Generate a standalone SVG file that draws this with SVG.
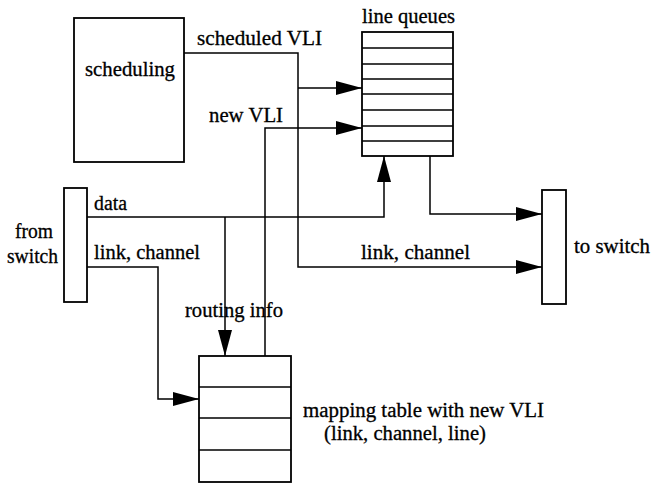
<svg xmlns="http://www.w3.org/2000/svg" width="652" height="484" viewBox="0 0 652 484">
  <style>
    .box { fill: #ffffff; stroke: #000000; stroke-width: 1.8; }
    .row { fill: none; stroke: #000000; stroke-width: 1.6; }
    .wire { fill: none; stroke: #000000; stroke-width: 1.5; }
    text { font-family: "Liberation Serif", "Times New Roman", serif; font-size: 20px; fill: #000000; stroke: #000000; stroke-width: 0.3; }
  </style>
  <defs>
    <marker id="arrow" viewBox="0 0 26 16" refX="26" refY="8" markerWidth="26" markerHeight="16" markerUnits="userSpaceOnUse" orient="auto">
      <path d="M0,1 L26,8 L0,15 z" fill="#000000"/>
    </marker>
  </defs>

  <rect width="652" height="484" fill="#ffffff"/>

  <!-- connectors -->
  <g id="connectors">
    <!-- scheduled VLI: to line queues and on to the switch as link, channel -->
    <path class="wire" d="M184,53 H298 V267 H542" marker-end="url(#arrow)"/>
    <path class="wire" d="M298,88 H362" marker-end="url(#arrow)"/>
    <!-- new VLI from the mapping table -->
    <path class="wire" d="M265,356 V128 H362" marker-end="url(#arrow)"/>
    <!-- data path into line queues -->
    <path class="wire" d="M87,217 H384 V156" marker-end="url(#arrow)"/>
    <!-- routing info branch -->
    <path class="wire" d="M225,217 V356" marker-end="url(#arrow)"/>
    <!-- line queues out to switch -->
    <path class="wire" d="M430,156 V214 H542" marker-end="url(#arrow)"/>
    <!-- link, channel into the mapping table -->
    <path class="wire" d="M87,267 H158 V399 H199" marker-end="url(#arrow)"/>

    <text x="197" y="45" textLength="125" lengthAdjust="spacingAndGlyphs">scheduled VLI</text>
    <text x="209" y="122" textLength="74" lengthAdjust="spacingAndGlyphs">new VLI</text>
    <text x="94" y="210" textLength="33" lengthAdjust="spacingAndGlyphs">data</text>
    <text x="94" y="259" textLength="106" lengthAdjust="spacingAndGlyphs">link, channel</text>
    <text x="185" y="317" textLength="98" lengthAdjust="spacingAndGlyphs">routing info</text>
    <text x="361" y="259" textLength="109" lengthAdjust="spacingAndGlyphs">link, channel</text>
  </g>

  <!-- scheduling unit -->
  <g id="scheduling">
    <rect class="box" x="74" y="18" width="110" height="144"/>
    <text x="85" y="76" textLength="90" lengthAdjust="spacingAndGlyphs">scheduling</text>
  </g>

  <!-- line queues -->
  <g id="line-queues">
    <rect class="box" x="362" y="32" width="91" height="124"/>
    <path class="row" d="M362,48 H453 M362,64 H453 M362,79 H453 M362,94 H453 M362,110 H453 M362,126 H453 M362,141 H453"/>
    <text x="362" y="23" textLength="93" lengthAdjust="spacingAndGlyphs">line queues</text>
  </g>

  <!-- input port -->
  <g id="from-switch">
    <rect class="box" x="64" y="188" width="23" height="114"/>
    <text x="15" y="238" textLength="38" lengthAdjust="spacingAndGlyphs">from</text>
    <text x="7" y="263" textLength="51" lengthAdjust="spacingAndGlyphs">switch</text>
  </g>

  <!-- output port -->
  <g id="to-switch">
    <rect class="box" x="542" y="190" width="24" height="114"/>
    <text x="574" y="253" textLength="76" lengthAdjust="spacingAndGlyphs">to switch</text>
  </g>

  <!-- mapping table -->
  <g id="mapping-table">
    <rect class="box" x="199" y="356" width="92" height="126"/>
    <path class="row" d="M199,387 H291 M199,418 H291 M199,450 H291"/>
    <text x="303" y="417" textLength="241" lengthAdjust="spacingAndGlyphs">mapping table with new VLI</text>
    <text x="324" y="440" textLength="162" lengthAdjust="spacingAndGlyphs">(link, channel, line)</text>
  </g>
</svg>
